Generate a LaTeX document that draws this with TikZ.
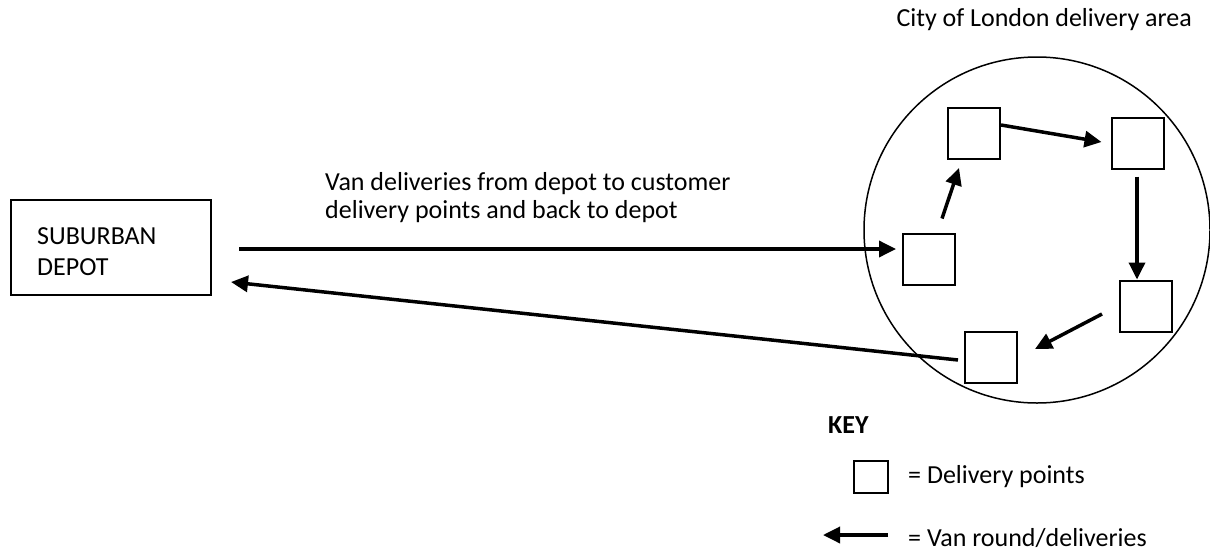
\documentclass[tikz,border=0pt]{standalone}
\usepackage{fontspec}
\setmainfont{Carlito}
\usetikzlibrary{arrows.meta}

\tikzset{
  txt/.style={font=\fontsize{26}{28}\selectfont, inner sep=0pt},
  point/.style={draw, line width=2pt, minimum width=52pt, minimum height=51pt, inner sep=0pt},
  depotbox/.style={draw, line width=2pt, minimum width=200pt, minimum height=95pt, inner sep=0pt},
  zone/.style={draw, circle, line width=1.5pt, minimum size=346pt, inner sep=0pt},
  van/.style={line width=3.5pt, -{Triangle[length=17pt, width=16pt]}}
}

\begin{document}
\begin{tikzpicture}[x=1pt, y=-1pt]
\useasboundingbox (0,0) rectangle (1210,555);

% depot and delivery area (multi-line text is anchored at its last baseline)
\node[depotbox] (depot) at (111,247.5) {};
\node[txt, anchor=base west, align=left, font=\fontsize{26}{31}\selectfont] (depottext) at (37,275) {SUBURBAN\\DEPOT};
\node[zone] (area) at (1037,230) {};
\node[txt, anchor=base east] (areatitle) at (1192,26) {City of London delivery area};

% customer delivery points
\node[point] (p1) at (974,133.5) {};
\node[point] (p2) at (1137.5,143) {};
\node[point] (p3) at (929,259) {};
\node[point] (p4) at (1146,306) {};
\node[point] (p5) at (991,357.5) {};

% the van round
\draw[van] ([shift={(27,1.5)}]depot.east) -- ([shift={(-6,-10)}]p3.west);
\draw[van] ([shift={(13,-14)}]p3.north) -- ([shift={(-15,8)}]p1.south);
\draw[van] ([shift={(0,-8.5)}]p1.east) -- ([shift={(-9,-1)}]p2.west);
\draw[van] ([shift={(-0.5,7)}]p2.south) -- ([shift={(-9,0)}]p4.north);
\draw[van] ([shift={(-17,8)}]p4.west) -- ([shift={(17,-8.5)}]p5.east);
\draw[van] ([shift={(-6,2.5)}]p5.west) -- ([shift={(19,-14)}]depot.south east);

\node[txt, anchor=base west, align=left] (routetext) at (325,218) {Van deliveries from depot to customer\\delivery points and back to depot};

% key
\node[txt, anchor=base west, font=\fontsize{26}{28}\bfseries] (key) at (828,433) {KEY};
\node[draw, line width=2pt, minimum width=34pt, minimum height=32pt, inner sep=0pt] (keypoint) at (871,477) {};
\node[txt, anchor=base west] (keypointtext) at (908,483) {= Delivery points};
\coordinate (keytail) at (888,535);
\coordinate (keytip) at (823,535);
\draw[van] (keytail) -- (keytip);
\node[txt, anchor=base west] (keyvantext) at (908,546) {= Van round/deliveries};
\end{tikzpicture}
\end{document}
